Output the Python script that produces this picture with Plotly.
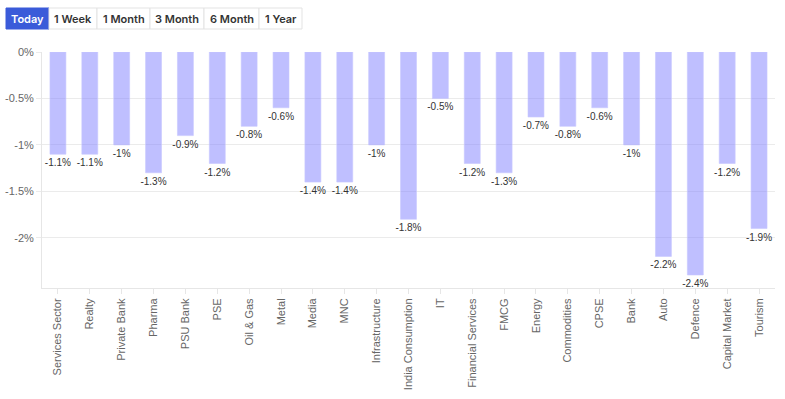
import plotly.graph_objects as go

categories = ["Services Sector", "Realty", "Private Bank", "Pharma", "PSU Bank", "PSE",
              "Oil & Gas", "Metal", "Media", "MNC", "Infrastructure", "India Consumption",
              "IT", "Financial Services", "FMCG", "Energy", "Commodities", "CPSE", "Bank",
              "Auto", "Defence", "Capital Market", "Tourism"]
values = [-1.1, -1.1, -1.0, -1.3, -0.9, -1.2, -0.8, -0.6, -1.4, -1.4, -1.0, -1.8,
          -0.5, -1.2, -1.3, -0.7, -0.8, -0.6, -1.0, -2.2, -2.4, -1.2, -1.9]
tick_vals = [0, -0.5, -1, -1.5, -2]
tick_text = ["0%", "-0.5%", "-1%", "-1.5%", "-2%"]
buttons = ["Today", "1 Week", "1 Month", "3 Month", "6 Month", "1 Year"]
button_edges = [6, 49, 97, 150, 204, 259, 302]

W, H = 785, 399
ML, MR, MT, MB = 42, 10, 52, 111
PW, PH = W - ML - MR, H - MT - MB


def px_x(p):
    return (p - ML) / PW


def px_y(p):
    return (H - MB - p) / PH


labels = [f"{v:g}%" for v in values]

fig = go.Figure(go.Bar(
    x=categories, y=values, text=labels, textposition="outside", constraintext="none",
    textfont=dict(family="Liberation Sans, Arial, sans-serif", size=10, color="#333333"),
    marker=dict(color="rgba(128,128,255,0.5)", line=dict(color="rgba(200,200,255,0.6)", width=1)),
    width=0.5, cliponaxis=False, hoverinfo="x+y",
))

shapes = []
annotations = []
for i, name in enumerate(buttons):
    x0, x1 = button_edges[i], button_edges[i + 1]
    active = i == 0
    shapes.append(dict(
        type="rect", xref="paper", yref="paper",
        x0=px_x(x0), x1=px_x(x1), y0=px_y(29), y1=px_y(8),
        fillcolor="#3a5bd9" if active else "white",
        line=dict(color="#3a5bd9" if active else "#e3e3e3", width=1),
        layer="above",
    ))
    annotations.append(dict(
        xref="paper", yref="paper", x=px_x((x0 + x1) / 2), y=px_y(18.5),
        text=name, showarrow=False, xanchor="center", yanchor="middle",
        font=dict(family="Inter, sans-serif", size=11, weight=600,
                  color="white" if active else "#333333"),
    ))

fig.update_layout(
    width=W, height=H,
    margin=dict(l=ML, r=MR, t=MT, b=MB, pad=0, autoexpand=False),
    plot_bgcolor="white", paper_bgcolor="white",
    showlegend=False,
    shapes=shapes, annotations=annotations,
    font=dict(family="Liberation Sans, Arial, sans-serif", size=11, color="#666666"),
    xaxis=dict(
        tickangle=-90, showgrid=False, showline=True, linecolor="#e6e6e6", linewidth=1,
        ticks="outside", ticklen=5, tickcolor="#e6e6e6", automargin=False,
        tickfont=dict(size=11, color="#666666"),
    ),
    yaxis=dict(
        range=[-2.54, 0], tickvals=tick_vals, ticktext=tick_text,
        showgrid=True, gridcolor="#ebebeb", zeroline=False,
        showline=True, linecolor="#e6e6e6", linewidth=1, automargin=False,
        ticks="outside", ticklen=5, tickcolor="#ebebeb",
        tickfont=dict(size=11, color="#666666"),
    ),
)

fig.write_html(
    "out.html",
    config={"displayModeBar": False},
    post_script="document.body.style.margin='0';document.body.style.overflow='hidden';",
)
